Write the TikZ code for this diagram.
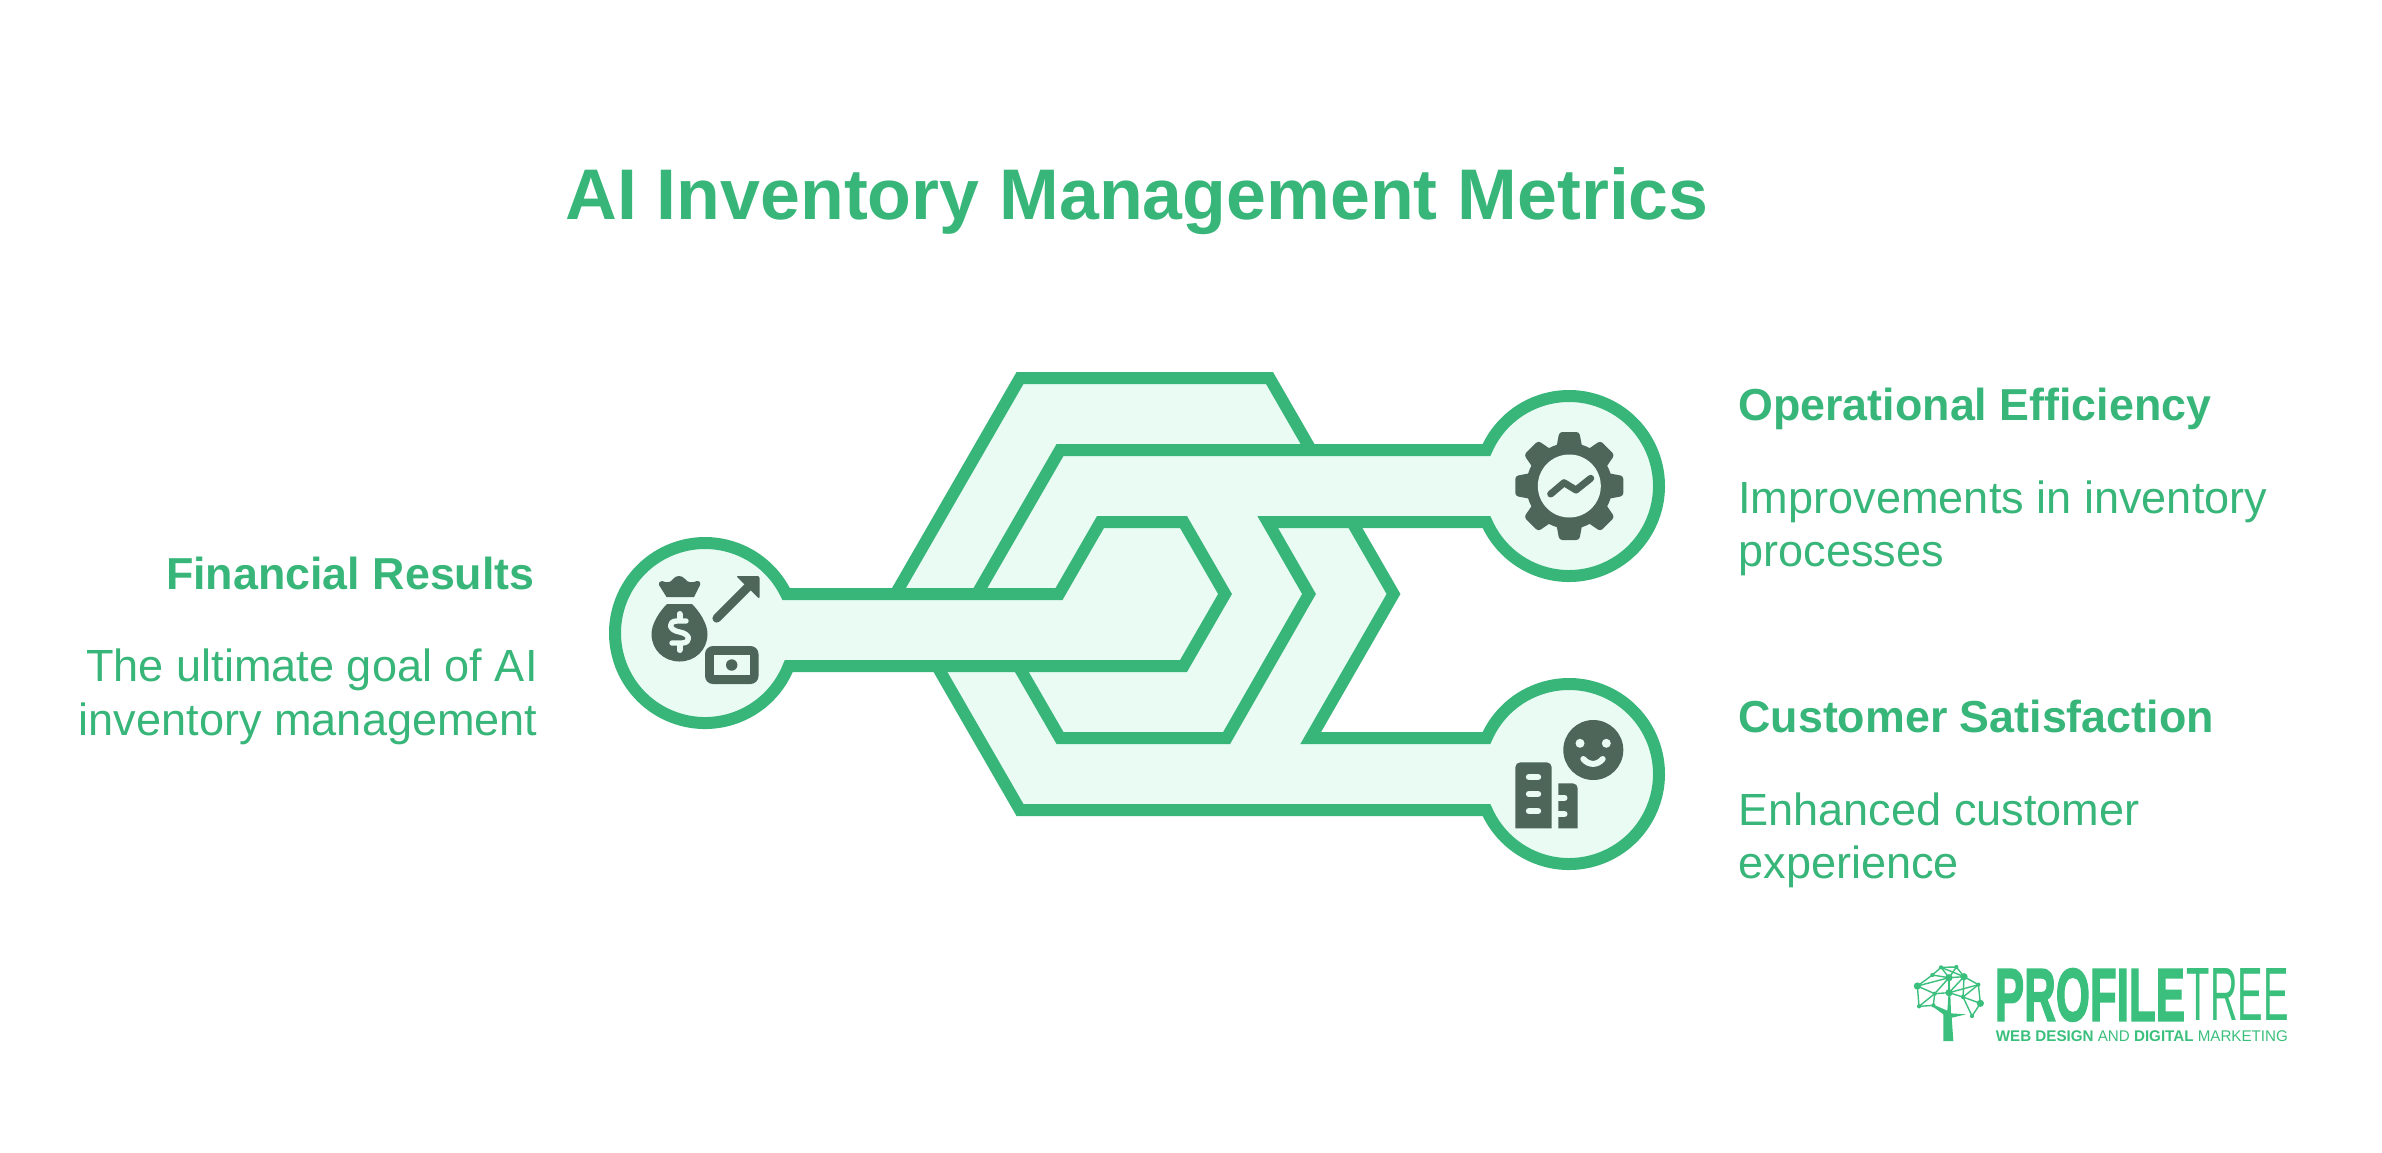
\documentclass[tikz,border=0pt]{standalone}
\usepackage{graphicx}
\usepackage{fontspec}
\setmainfont{Liberation Sans}
\newfontface\logoheavy{Liberation Sans Bold}[FakeBold=2.5]
\definecolor{gr}{HTML}{38B67A}
\definecolor{mint}{HTML}{E9FBF3}
\definecolor{ic}{HTML}{4E665A}
\definecolor{lg}{HTML}{3ABF7C}
\tikzset{
  x=.5pt,y=.5pt,
  pipe/.style={draw=gr,line width=6pt,miter limit=10,line join=miter},
  titletext/.style={text=gr,inner sep=0,font=\fontsize{35.85}{40}\selectfont\bfseries},
  headtext/.style={text=gr,inner sep=0,font=\fontsize{22.4}{27}\selectfont\bfseries},
  bodytext/.style={text=gr,inner sep=0,font=\fontsize{22.55}{26}\selectfont},
  icfill/.style={fill=ic,draw=none},
  icgap/.style={draw=mint,line cap=round,line join=round},
  netline/.style={draw=lg,line width=.7pt},
}
\begin{document}
\begin{tikzpicture}[yscale=-1]
\useasboundingbox (0,0) rectangle (2382,1152);
% fill of the whole pipe shape
\fill[mint] (786.08,594) -- (895.5,594) -- (1020,378) -- (1269.5,378) -- (1311,450) -- (1486.5,450)
  arc[start angle=203.58,end angle=516.42,radius=45pt] -- (1352,522) -- (1393.5,594) -- (1310.7,738) -- (1486.5,738)
  arc[start angle=203.58,end angle=516.42,radius=45pt] -- (1020,810) -- (937,666) -- (788.74,666)
  arc[start angle=21.5,end angle=334.3,radius=45pt] -- cycle;
% outer arm to customer satisfaction
\draw[pipe] (1352,522) -- (1393.5,594) -- (1310.7,738) -- (1486.5,738)
  arc[start angle=203.58,end angle=516.42,radius=45pt] -- (1020,810) -- (937,666);
% outer top arm
\draw[pipe] (895.5,594) -- (1020,378) -- (1269.5,378) -- (1311,450);
% arm to operational efficiency
\draw[pipe] (977,594) -- (1060,450) -- (1486.5,450)
  arc[start angle=203.58,end angle=516.42,radius=45pt] -- (1267.7,522) -- (1309,594) -- (1226.6,738) -- (1060,738) -- (1018.4,666);
% keyhole from financial results
\draw[pipe] (788.74,666) arc[start angle=21.5,end angle=334.3,radius=45pt]
  -- (1059,594) -- (1100.5,522) -- (1183.5,522) -- (1225,594) -- (1183.5,666) -- cycle;
% money icon
\fill[icfill] (662,581) .. controls (667,583) and (670,583) .. (673,579) .. controls (676,575) and (682,575) .. (685,579) .. controls (688,583) and (692,583) .. (697,581) .. controls (700,581) and (701,583) .. (700,585) -- (694,597) -- (666.5,597) -- (659,585) .. controls (658,583) and (660,581) .. (662,581) -- cycle;
\fill[icfill] (667,604) -- (692,604) .. controls (700,612) and (707.5,624) .. (707.5,634) .. controls (707.5,650) and (695,661.5) .. (679.5,661.5) .. controls (664,661.5) and (651.5,650) .. (651.5,634) .. controls (651.5,624) and (659,612) .. (667,604) -- cycle;
\draw[icgap,line width=2.7pt] (686,621) -- (677,621) .. controls (668,621) and (668,630) .. (679.5,632) .. controls (691,634) and (691,643) .. (682,643) -- (672,643);
\draw[icgap,line width=3pt] (679.5,614) -- (679.5,619) (679.5,645) -- (679.5,650);
\draw[ic,line width=4.3pt,line cap=round] (716.7,618.3) -- (750,585);
\fill[icfill,rounded corners=1pt] (736,576) -- (759.5,576) -- (759.5,599) -- cycle;
\fill[icfill,rounded corners=4pt] (705,646) rectangle (758.5,684);
\fill[mint] (714,655) rectangle (750,675);
\fill[icfill] (731.7,665) circle[radius=2.85pt];
% gear icon
\fill[icfill] (1569.3,486) circle[radius=21.5pt];
\foreach \a in {0,45,...,315}{
  \fill[icfill,rounded corners=1.5pt,shift={(1569.3,486)},rotate=\a] (38,-13) -- (54,-10) -- (54,10) -- (38,13) -- cycle;
}
\fill[mint] (1569.3,486) circle[radius=15.75pt];
\draw[ic,line width=3.5pt,line cap=round,line join=round] (1550.7,494) -- (1564,482.7) -- (1576,490) -- (1590.7,478.3);
% smiley and buildings icon
\fill[icfill] (1593.3,750) circle[radius=15pt];
\fill[mint] (1580,743.3) circle[radius=2.25pt] (1606.3,743.3) circle[radius=2.25pt];
\draw[icgap,line width=3pt] (1583.3,759) .. controls (1589,765.5) and (1597,765.5) .. (1602.7,759);
\fill[icfill] (1515.3,828.3) -- (1515.3,767.3) arc[start angle=180,end angle=270,radius=2.5pt] -- (1546.7,762.3) arc[start angle=270,end angle=360,radius=2.5pt] -- (1551.7,828.3) -- cycle;
\draw[icgap,line width=3.2pt] (1529,777) -- (1538,777) (1529,794) -- (1538,794) (1529,811) -- (1538,811);
\fill[icfill] (1558.3,828.3) -- (1558.3,783.3) -- (1572.7,783.3) arc[start angle=270,end angle=360,radius=2.5pt] -- (1577.7,828.3) -- cycle;
\draw[icgap,line width=3pt] (1556,797.7) -- (1564.5,797.7) (1556,814) -- (1564.5,814);
% texts
\node[titletext,anchor=base] (title) at (1137,219) {AI Inventory Management Metrics};
\node[headtext,anchor=base east] (fin) at (535,589) {Financial Results};
\node[bodytext,anchor=base east] (fin1) at (538,681) {The ultimate goal of AI};
\node[bodytext,anchor=base east] (fin2) at (538,735) {inventory management};
\node[headtext,anchor=base west] (op) at (1738,420) {Operational Efficiency};
\node[bodytext,anchor=base west] (op1) at (1738,513) {Improvements in inventory};
\node[bodytext,anchor=base west] (op2) at (1738,566) {processes};
\node[headtext,anchor=base west] (cs) at (1738,732) {Customer Satisfaction};
\node[bodytext,anchor=base west] (cs1) at (1738,825) {Enhanced customer};
\node[bodytext,anchor=base west] (cs2) at (1738,878) {experience};
% logo
\node[inner sep=0,anchor=south west,text=lg] (logoa) at (1994.5,1021.7) {\resizebox{95pt}{26pt}{\logoheavy PROFILE}\hspace{1pt}\resizebox{51pt}{26pt}{TREE}};
\node[inner sep=0,anchor=south west,text=lg] (logoc) at (1995.5,1042) {\resizebox{146pt}{5.4pt}{\bfseries WEB DESIGN \mdseries AND \bfseries DIGITAL \mdseries MARKETING}};
% tree
\begin{scope}[shift={(1890,945)},x=.1667pt,y=.1667pt]
\foreach \n/\p in {a/{82,123},b/{177,98},c/{222,95},d/{177,143},e/{271,175},f/{153,67},g/{199,66},h/{127,90},i/{265,119},j/{134,146},k/{219,156},l/{87,184},m/{130,181},n/{246,213}}{
  \coordinate (t\n) at (\p);
}
\foreach \u/\v in {a/h,h/f,f/g,g/c,c/i,i/e,e/n,a/l,l/m,a/j,j/l,j/m,j/d,h/b,f/b,g/b,f/c,b/c,b/d,a/b,b/j,d/k,c/k,i/k,e/k,n/k,c/d,i/d}{
  \draw[netline] (t\u) -- (t\v);
}
\foreach \n in {a,b,c,d,e}{\fill[lg] (t\n) circle[radius=1.8pt];}
\foreach \n in {f,g,h,i,j,k,l,m,n}{\fill[lg] (t\n) circle[radius=1.05pt];}
\fill[lg] (160,288) -- (190,288) -- (185,218) -- (228,208) -- (183,205) -- (181,150) -- (175,150) -- (172,197) -- (135,181) -- (130,186) -- (160,208) -- cycle;
\end{scope}
\end{tikzpicture}
\end{document}
